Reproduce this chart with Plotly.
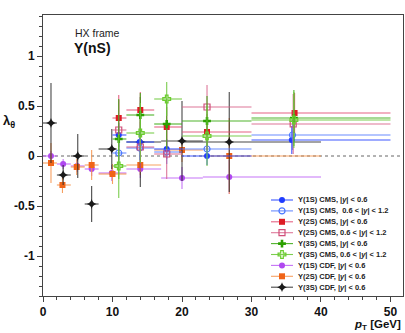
import plotly.graph_objects as go

# ---------------- data ----------------
# CMS pT bins
cms_lo = [10, 12, 16, 20, 30]
cms_hi = [12, 16, 20, 30, 50]

cms1s_c_pt = [10.9, 13.9, 17.8, 23.6, 35.8]
cms1s_c_y = [0.21, 0.14, 0.07, 0.00, 0.16]
cms1s_c_err = [0.12, 0.10, 0.10, 0.09, 0.14]

cms1s_f_pt = [10.9, 13.9, 17.8, 23.6, 35.9]
cms1s_f_y = [0.03, 0.08, 0.04, 0.07, 0.21]
cms1s_f_err = [0.12, 0.12, 0.12, 0.10, 0.15]

cms2s_c_pt = [10.9, 14.0, 17.8, 23.6, 36.2]
cms2s_c_y = [0.38, 0.46, 0.29, 0.24, 0.43]
cms2s_c_err = [0.23, 0.18, 0.20, 0.18, 0.20]

cms2s_f_pt = [10.9, 14.0, 17.8, 23.6, 36.0]
cms2s_f_y = [0.26, 0.09, 0.02, 0.49, 0.32]
cms2s_f_err = [0.30, 0.25, 0.25, 0.22, 0.30]

cms3s_c_pt = [10.9, 14.0, 17.8, 23.6, 36.1]
cms3s_c_y = [0.17, 0.41, 0.32, 0.35, 0.38]
cms3s_c_err = [0.40, 0.22, 0.25, 0.25, 0.28]

cms3s_f_pt = [10.9, 14.0, 17.8, 23.6, 36.1]
cms3s_f_y = [-0.10, 0.23, 0.57, 0.20, 0.36]
cms3s_f_err = [0.32, 0.30, 0.17, 0.30, 0.28]

# CDF
cdf1s_pt = [1.15, 2.9, 4.9, 7.0, 9.9, 14.0, 20.0, 26.8]
cdf1s_lo = [0, 2, 4, 6, 8, 12, 17, 23]
cdf1s_hi = [2, 4, 6, 8, 12, 17, 23, 40]
cdf1s_y = [0.00, -0.08, -0.10, -0.13, -0.17, -0.13, -0.22, -0.21]
cdf1s_err = [0.05, 0.05, 0.06, 0.07, 0.08, 0.09, 0.11, 0.17]

cdf2s_pt = [1.15, 2.8, 4.85, 7.0, 10.0, 14.0, 20.0, 26.8]
cdf2s_lo = [0, 2, 4, 6, 8, 12, 16, 23]
cdf2s_hi = [2, 4, 6, 8, 12, 17, 23, 40]
cdf2s_y = [-0.07, -0.29, -0.11, -0.09, -0.18, -0.09, 0.06, 0.00]
cdf2s_err = [0.20, 0.08, 0.08, 0.15, 0.10, 0.10, 0.12, 0.38]

cdf3s_pt = [1.15, 2.9, 5.0, 7.0, 9.9, 14.0, 20.0, 26.8]
cdf3s_lo = [0, 2, 4, 6, 8, 12, 17, 20]
cdf3s_hi = [2, 4, 6, 8, 10.6, 17, 23, 40]
cdf3s_y = [0.33, -0.19, 0.00, -0.48, 0.07, 0.14, 0.15, 0.14]
cdf3s_err = [0.40, 0.10, 0.22, 0.18, 0.20, 0.45, 0.40, 0.50]

legend_labels = [
    "Υ(1S) CMS, |<i>y</i>| &lt; 0.6",
    "Υ(1S) CMS,  0.6 &lt; |<i>y</i>| &lt; 1.2",
    "Υ(2S) CMS, |<i>y</i>| &lt; 0.6",
    "Υ(2S) CMS, 0.6 &lt; |<i>y</i>| &lt; 1.2",
    "Υ(3S) CMS, |<i>y</i>| &lt; 0.6",
    "Υ(3S) CMS, 0.6 &lt; |<i>y</i>| &lt; 1.2",
    "Υ(1S) CDF, |<i>y</i>| &lt; 0.6",
    "Υ(2S) CDF, |<i>y</i>| &lt; 0.6",
    "Υ(3S) CDF, |<i>y</i>| &lt; 0.6",
]

y_tick_vals = [-1, -0.5, 0, 0.5, 1]
y_tick_text = ["-1", "-0.5", "0", "0.5", "1"]
x_tick_vals = [0, 10, 20, 30, 40, 50]
x_tick_text = ["0", "10", "20", "30", "40", "50"]

# ---------------- styles ----------------
styles = [
    dict(sym="circle", col="#1f3cff", ecol="rgba(40,70,255,0.9)"),
    dict(sym="circle-open", col="#4a78ff", ecol="rgba(80,120,255,0.85)"),
    dict(sym="square", col="#dd1c24", ecol="rgba(225,70,110,0.85)"),
    dict(sym="square-open", col="#d0507a", ecol="rgba(215,95,135,0.85)"),
    dict(sym="cross", col="#2ca000", ecol="rgba(60,170,20,0.9)"),
    dict(sym="cross-open", col="#6ccc30", ecol="rgba(110,200,60,0.9)"),
    dict(sym="circle", col="#b048f0", ecol="rgba(190,100,245,0.9)"),
    dict(sym="square", col="#f06418", ecol="rgba(245,150,80,0.9)"),
    dict(sym="star-diamond", col="#1a1a1a", ecol="rgba(40,40,40,0.85)"),
]


def msize(sym):
    if sym.startswith("cross"):
        return 6.5
    if sym.startswith("star"):
        return 7
    return 6


series = [
    (cms1s_c_pt, cms_lo, cms_hi, cms1s_c_y, cms1s_c_err),
    (cms1s_f_pt, cms_lo, cms_hi, cms1s_f_y, cms1s_f_err),
    (cms2s_c_pt, cms_lo, cms_hi, cms2s_c_y, cms2s_c_err),
    (cms2s_f_pt, cms_lo, cms_hi, cms2s_f_y, cms2s_f_err),
    (cms3s_c_pt, cms_lo, cms_hi, cms3s_c_y, cms3s_c_err),
    (cms3s_f_pt, cms_lo, cms_hi, cms3s_f_y, cms3s_f_err),
    (cdf1s_pt, cdf1s_lo, cdf1s_hi, cdf1s_y, cdf1s_err),
    (cdf2s_pt, cdf2s_lo, cdf2s_hi, cdf2s_y, cdf2s_err),
    (cdf3s_pt, cdf3s_lo, cdf3s_hi, cdf3s_y, cdf3s_err),
]

FONT = "Liberation Sans, Arial, Helvetica, sans-serif"
fig = go.Figure()

# draw CDF first, CMS on top
order = [6, 7, 8, 0, 1, 2, 3, 4, 5]
for i in order:
    pt, lo, hi, y, err = series[i]
    st = styles[i]
    open_sym = st["sym"].endswith("open")
    fig.add_trace(go.Scatter(
        x=pt, y=y, mode="markers", showlegend=False,
        marker=dict(symbol=st["sym"], size=msize(st["sym"]),
                    color=st["col"],
                    line=dict(color=st["col"], width=1.2 if open_sym else 0)),
        error_y=dict(type="data", array=err, color=st["ecol"], thickness=1.1, width=0),
        error_x=dict(type="data",
                     array=[h - p for h, p in zip(hi, pt)],
                     arrayminus=[p - l for p, l in zip(pt, lo)],
                     color=st["ecol"], thickness=1.1, width=0),
    ))

# ---------------- custom compact legend on an overlay axis ----------------
L_LEFT, L_RIGHT, L_TOP, L_BOT = 265, 400, 195, 292   # pixel box
PL, PR, PT, PB = 43, 403, 15, 296                      # plot area in pixels
row0, dy = 200, 10.9
for k, lab in enumerate(legend_labels):
    st = styles[k]
    ry = row0 + dy * k
    open_sym = st["sym"].endswith("open")
    fig.add_trace(go.Scatter(
        x=[271, 293], y=[ry, ry], mode="lines", xaxis="x2", yaxis="y2",
        line=dict(color=st["ecol"], width=1.1), showlegend=False, hoverinfo="skip"))
    fig.add_trace(go.Scatter(
        x=[282], y=[ry], mode="markers", xaxis="x2", yaxis="y2", showlegend=False,
        marker=dict(symbol=st["sym"], size=msize(st["sym"]),
                    color=st["col"],
                    line=dict(color=st["col"], width=1.2 if open_sym else 0)),
        hoverinfo="skip"))
    fig.add_annotation(x=296, y=ry, xref="x2", yref="y2", text="<b>" + lab + "</b>",
                       showarrow=False, xanchor="left", yanchor="middle",
                       font=dict(family=FONT, size=7.5, color="#222"))

W, H = 405, 333
fig.update_layout(
    width=W, height=H,
    margin=dict(l=PL, r=W - PR, t=PT, b=H - PB, pad=0),
    paper_bgcolor="white", plot_bgcolor="white",
    font=dict(family=FONT, color="#111"),
    xaxis=dict(range=[0, 51.8], showgrid=False, zeroline=False, automargin=False,
               showline=True, linecolor="#444", linewidth=1, mirror=True,
               ticks="outside", ticklen=5, tickcolor="#444",
               tickvals=x_tick_vals, ticktext=x_tick_text,
               tickfont=dict(family=FONT, size=12, weight="bold", color="#111"),
               minor=dict(dtick=2, ticks="outside", ticklen=3, tickcolor="#444")),
    yaxis=dict(range=[-1.4, 1.41], showgrid=False, zeroline=False, automargin=False,
               showline=True, linecolor="#444", linewidth=1, mirror=True,
               ticks="outside", ticklen=5, tickcolor="#444",
               tickvals=y_tick_vals, ticktext=y_tick_text,
               tickfont=dict(family=FONT, size=12, weight="bold", color="#111"),
               minor=dict(dtick=0.1, ticks="outside", ticklen=3, tickcolor="#444")),
    xaxis2=dict(domain=[(L_LEFT - PL) / (PR - PL), (L_RIGHT - PL) / (PR - PL)],
                range=[L_LEFT, L_RIGHT], visible=False, anchor="y2"),
    yaxis2=dict(domain=[(PB - L_BOT) / (PB - PT), (PB - L_TOP) / (PB - PT)],
                range=[L_BOT, L_TOP], visible=False, anchor="x2"),
    showlegend=False,
)

# dotted zero line
fig.add_shape(type="line", xref="paper", yref="y", x0=0, x1=1, y0=0, y1=0,
              line=dict(color="#666", width=1, dash="dot"), layer="below")

# texts
fig.add_annotation(x=(73 - PL) / (PR - PL), y=(PB - 33) / (PB - PT), xref="paper", yref="paper",
                   text="HX frame", showarrow=False, xanchor="left", yanchor="middle",
                   font=dict(family=FONT, size=10.5, color="#222"))
fig.add_annotation(x=(72 - PL) / (PR - PL), y=(PB - 48) / (PB - PT), xref="paper", yref="paper",
                   text="<b>Υ(nS)</b>", showarrow=False, xanchor="left", yanchor="middle",
                   font=dict(family=FONT, size=14, color="#111"))
fig.add_annotation(x=(1 - PL) / (PR - PL), y=(PB - 121) / (PB - PT), xref="paper", yref="paper",
                   text="<b>λ<sub>θ</sub></b>", showarrow=False, xanchor="left", yanchor="middle",
                   font=dict(family=FONT, size=13, color="#111"))
fig.add_annotation(x=1.0, y=(PB - 325) / (PB - PT), xref="paper", yref="paper",
                   text="<b><i>p</i><sub>T</sub> [GeV]</b>", showarrow=False,
                   xanchor="right", yanchor="middle",
                   font=dict(family=FONT, size=11.5, color="#111"))

fig.write_html("out.html", config={"displayModeBar": False},
               post_script="document.body.style.margin='0';document.body.style.overflow='hidden';")
